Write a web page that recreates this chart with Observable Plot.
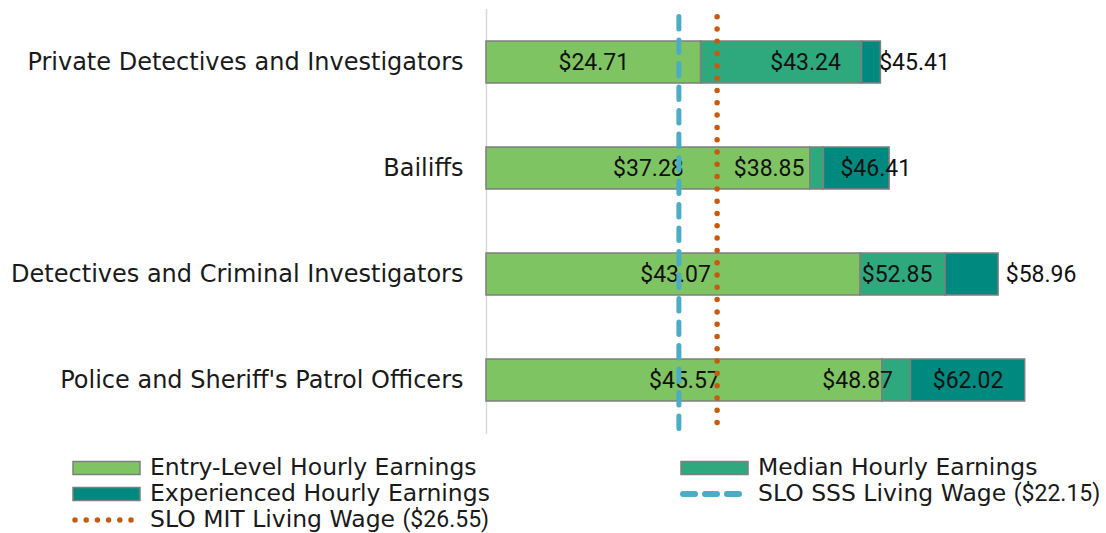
<!DOCTYPE html>
<html><head><meta charset="utf-8">
<script src="https://cdn.jsdelivr.net/npm/d3@7"></script>
<script src="https://cdn.jsdelivr.net/npm/@observablehq/plot@0.6"></script>
<style>
body{margin:0;background:#fff;font-family:"DejaVu Sans",sans-serif;color:#1a1a1a;}
#wrap{position:relative;width:1106px;height:533px;overflow:hidden;}
#legend{position:absolute;left:0;top:0;width:1106px;height:533px;pointer-events:none;}
.item{position:absolute;display:flex;align-items:center;font-size:23.5px;line-height:1;white-space:nowrap;height:26px;}
.item span{line-height:1;}
.item svg{margin-right:9px;flex:none;}
.num{font-family:Roboto,sans-serif;font-size:23px;}
</style></head><body>
<div id="wrap"><div id="chart"></div><div id="legend"></div></div>
<script>
// ---- data ----
const occupations = [
  "Private Detectives and Investigators",
  "Bailiffs",
  "Detectives and Criminal Investigators",
  "Police and Sheriff's Patrol Officers"
];
const entryLevel  = [24.71, 37.28, 43.07, 45.57];
const median      = [43.24, 38.85, 52.85, 48.87];
const experienced = [45.41, 46.41, 58.96, 62.02];
const seriesNames = ["Entry-Level Hourly Earnings", "Median Hourly Earnings", "Experienced Hourly Earnings"];
const sssName = "SLO SSS Living Wage";
const mitName = "SLO MIT Living Wage";
const sssWage = 22.15;
const mitWage = 26.55;

// ---- style ----
const colors = ["#7fc463", "#2ea97d", "#00897f"];
const sssColor = "#4bacc6";
const mitColor = "#c55a11";
// label nudges (px) mimicking the original label placement
const labelNudge = [
  [0, 24, 43],
  [0, -48, 19],
  [2, -6, 69],
  [0, -39, 0]
];
const FONT = "DejaVu Sans";
const NUMFONT = "Roboto";

// ---- build table ----
const segs = [];
occupations.forEach((occ, i) => {
  const bounds = [0, entryLevel[i], median[i], experienced[i]];
  const vals = [entryLevel[i], median[i], experienced[i]];
  seriesNames.forEach((s, j) => {
    segs.push({occ, series: s, x1: bounds[j], x2: bounds[j + 1], value: vals[j], dx: labelNudge[i][j]});
  });
});

const fmt = v => "$" + v.toFixed(2);

const chart = Plot.plot({
  width: 1106,
  height: 440,
  marginLeft: 486,
  marginRight: 12,
  marginTop: 9,
  marginBottom: 6,
  style: {fontFamily: FONT, fontSize: "24px", color: "#1a1a1a", background: "transparent"},
  x: {domain: [0, 70], axis: null},
  y: {domain: occupations, paddingInner: 0.6, paddingOuter: 0.3, label: null},
  color: {domain: seriesNames, range: colors},
  marks: [
    Plot.ruleX([0], {stroke: "#d9d9d9", strokeWidth: 1.5}),
    Plot.barX(segs, {x1: "x1", x2: "x2", y: "occ", fill: "series", stroke: "#7f7f7f", strokeWidth: 1.5}),
    Plot.axisY({tickSize: 0, tickPadding: 23, fontSize: 24, label: null, fill: "#1a1a1a"}),
    ...segs.map(d => Plot.text([d], {
      x: d => (d.x1 + d.x2) / 2, y: "occ", text: d => fmt(d.value),
      dx: d.dx, fontSize: 23, fontFamily: NUMFONT, fill: "#111"
    })),
    Plot.ruleX([sssWage], {stroke: sssColor, strokeWidth: 5, strokeDasharray: "12.5,11", strokeLinecap: "round", insetTop: 7.5, insetBottom: -0.5}),
    Plot.ruleX([mitWage], {stroke: mitColor, strokeWidth: 5.5, strokeDasharray: "0,12.3", strokeLinecap: "round", insetTop: 7.7, insetBottom: 0})
  ]
});
document.getElementById("chart").appendChild(chart);

// ---- legend ----
const legend = document.getElementById("legend");
function barSwatch(c) {
  return `<svg width="69" height="16"><rect x="1" y="1.5" width="67" height="13" fill="${c}" stroke="#7f7f7f" stroke-width="1.5"/></svg>`;
}
function lineSwatch(c, dash, w) {
  return `<svg width="69" height="16"><line x1="3" x2="66" y1="8" y2="8" stroke="${c}" stroke-width="${w}" stroke-dasharray="${dash}" stroke-linecap="round"/></svg>`;
}
const wageText = (name, v) => `${name} <span class="num">(${fmt(v)})</span>`;
const items = [
  {x: 72, y: 455, sw: barSwatch(colors[0]), t: seriesNames[0]},
  {x: 680, y: 455, sw: barSwatch(colors[1]), t: seriesNames[1]},
  {x: 72, y: 481, sw: barSwatch(colors[2]), t: seriesNames[2]},
  {x: 680, y: 481, sw: lineSwatch(sssColor, "12,10", 6), t: wageText(sssName, sssWage)},
  {x: 72, y: 507, sw: lineSwatch(mitColor, "0,11.2", 5.5), t: wageText(mitName, mitWage)}
];
items.forEach(it => {
  const d = document.createElement("div");
  d.className = "item";
  d.style.left = it.x + "px";
  d.style.top = it.y + "px";
  d.innerHTML = it.sw + "<span>" + it.t + "</span>";
  legend.appendChild(d);
});
</script>
</body></html>
